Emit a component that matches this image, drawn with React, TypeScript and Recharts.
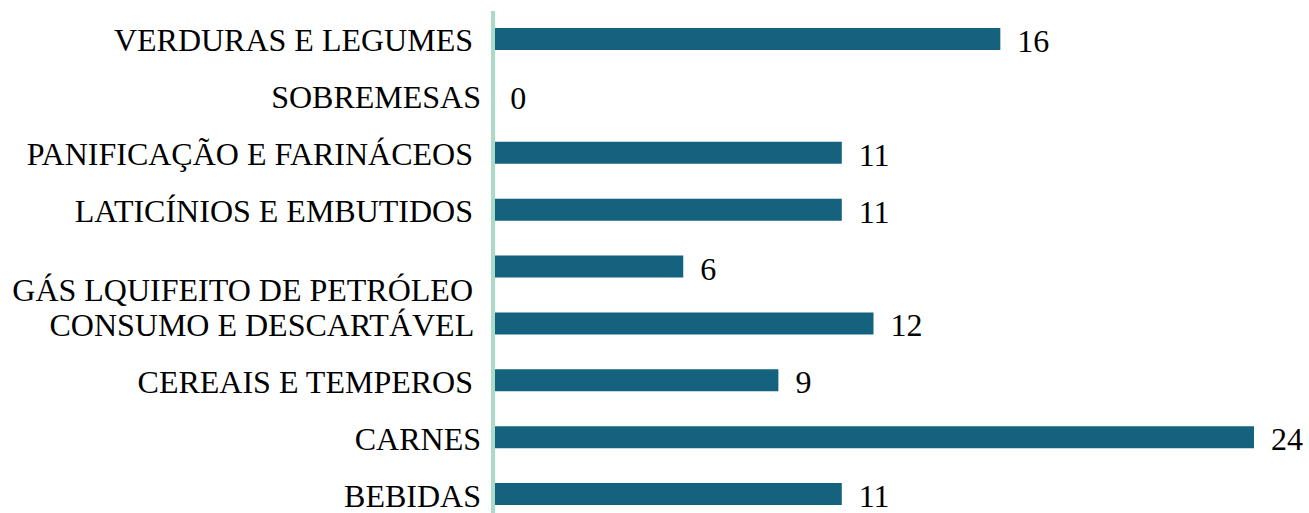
import { BarChart, Bar, XAxis, YAxis, LabelList } from 'recharts';

const categories = [
  'VERDURAS E LEGUMES ',
  'SOBREMESAS',
  'PANIFICAÇÃO E FARINÁCEOS ',
  'LATICÍNIOS E EMBUTIDOS ',
  'GÁS LQUIFEITO DE PETRÓLEO ',
  'CONSUMO E DESCARTÁVEL ',
  'CEREAIS E TEMPEROS ',
  'CARNES',
  'BEBIDAS',
];
const counts = [16, 0, 11, 11, 6, 12, 9, 24, 11];

const data = categories.map((name, i) => ({ name, value: counts[i] }));

const FONT = "'Liberation Serif', 'Times New Roman', serif";
const FONT_SIZE = 32;

// the GLP label sits a bit below its bar in the original
const CategoryTick = (props: any) => {
  const { x, y, payload, index } = props;
  const dy = index === 4 ? 22 : 0;
  return (
    <text
      x={x - 12}
      y={y + dy + 1}
      textAnchor="end"
      dominantBaseline="central"
      fill="#000"
      style={{ whiteSpace: 'pre', fontFamily: FONT, fontSize: FONT_SIZE }}
    >
      {payload.value}
    </text>
  );
};

// drawn by hand so the zero bar still gets its "0"
const ValueLabel = (props: any) => {
  const { x, y, width, height, value } = props;
  return (
    <text
      x={Number(x) + Number(width) + 17}
      y={Number(y) + Number(height) / 2 + 2}
      dominantBaseline="central"
      fill="#000"
      style={{ fontFamily: FONT, fontSize: FONT_SIZE }}
    >
      {value}
    </text>
  );
};

export default function App() {
  return (
    <div>
      <style>{'body{margin:0;overflow:hidden}'}</style>
      <BarChart
        width={1309}
        height={530}
        data={data}
        layout="vertical"
        margin={{ top: 11, right: 55, bottom: 7, left: 0 }}
        barSize={22}
      >
        <XAxis type="number" domain={[0, 24]} hide />
        <YAxis
          type="category"
          dataKey="name"
          width={493}
          tickLine={false}
          tickSize={0}
          tickMargin={0}
          axisLine={{ stroke: '#a9dcc6', strokeWidth: 4 }}
          tick={<CategoryTick />}
          interval={0}
        />
        <Bar dataKey="value" fill="#15627f" minPointSize={0.3} isAnimationActive={false}>
          <LabelList dataKey="value" content={<ValueLabel />} />
        </Bar>
      </BarChart>
    </div>
  );
}
